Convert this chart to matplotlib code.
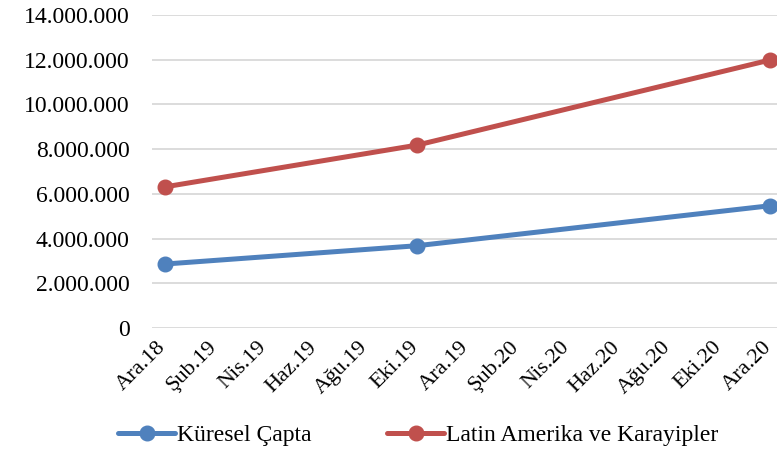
import matplotlib.pyplot as plt
import matplotlib.ticker as mticker
import matplotlib.transforms as mtransforms

# month labels, every 2 months from Ara.18 to Ara.20
tick_labels = ["Ara.18", "Şub.19", "Nis.19", "Haz.19", "Ağu.19", "Eki.19", "Ara.19",
               "Şub.20", "Nis.20", "Haz.20", "Ağu.20", "Eki.20", "Ara.20"]
tick_months = list(range(0, 25, 2))

# data points (month index since Ara.18)
point_months = [0, 10, 24]
kuresel = [2860000, 3680000, 5470000]
latin = [6310000, 8180000, 11990000]

plt.rcParams["font.family"] = ["Liberation Serif", "DejaVu Serif"]

fig = plt.figure(figsize=(7.77, 4.54), dpi=100)
ax = fig.add_axes([152 / 777, 126 / 454, 631 / 777, 313 / 454])

ax.plot(point_months, kuresel, color="#4F81BD", lw=3.6, marker="o", ms=10.5,
        label="Küresel Çapta", clip_on=False, solid_capstyle="round")
ax.plot(point_months, latin, color="#C0504D", lw=3.6, marker="o", ms=10.5,
        label="Latin Amerika ve Karayipler", clip_on=False, solid_capstyle="round")

ax.set_xlim(-0.5, 24.5)
ax.set_ylim(0, 14000000)
ax.yaxis.set_major_locator(mticker.MultipleLocator(2000000))
ax.yaxis.set_major_formatter(mticker.FuncFormatter(lambda v, p: f"{int(v):,}".replace(",", ".")))
ax.set_xticks(tick_months)
ax.set_xticklabels(tick_labels, rotation=45, ha="right", rotation_mode="anchor")

ax.grid(axis="y", color="#D9D9D9", lw=1.3)
ax.set_axisbelow(True)
for s in ax.spines.values():
    s.set_visible(False)
ax.tick_params(axis="both", length=0, colors="black")
ax.tick_params(axis="y", labelsize=17, pad=16)
ax.tick_params(axis="x", labelsize=16, pad=7)

# nudge rotated date labels a little left like the original
offset = mtransforms.ScaledTranslation(-6 / 72, 0, fig.dpi_scale_trans)
for lbl in ax.get_xticklabels():
    lbl.set_transform(lbl.get_transform() + offset)

fig.legend(loc="center left", bbox_to_anchor=(0.125, 19 / 454), ncol=2, frameon=False,
           fontsize=17, handlelength=2.4, handletextpad=0.1, columnspacing=3.2)

fig.savefig("out.png", dpi=100)
